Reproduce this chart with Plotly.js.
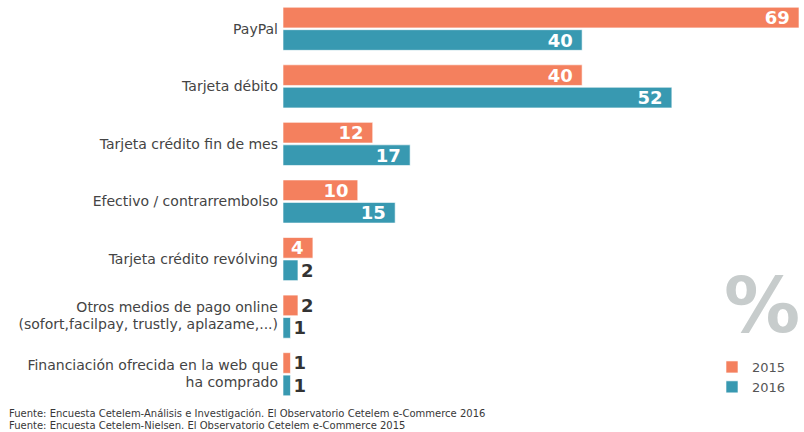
<!DOCTYPE html>
<html>
<head>
<meta charset="utf-8">
<script src="https://cdn.plot.ly/plotly-3.0.1.min.js"></script>
<style>html,body{margin:0;padding:0;background:#fff;}#chart{width:804px;height:432px;}</style>
</head>
<body>
<div id="chart"></div>
<script>
const categories = [
  "PayPal",
  "Tarjeta débito",
  "Tarjeta crédito fin de mes",
  "Efectivo / contrarrembolso",
  "Tarjeta crédito revólving",
  "Otros medios de pago online<br>(sofort,facilpay, trustly, aplazame,...)",
  "Financiación ofrecida en la web que<br>ha comprado"
];
const values2015 = [69, 40, 12, 10, 4, 2, 1];
const values2016 = [40, 52, 17, 15, 2, 1, 1];
const seriesNames = ["2015", "2016"];
const footnotes = [
  "Fuente: Encuesta Cetelem-Análisis e Investigación. El Observatorio Cetelem e-Commerce 2016",
  "Fuente: Encuesta Cetelem-Nielsen. El Observatorio Cetelem e-Commerce 2015"
];

const W = 804, H = 432;
const M = {l: 283, r: 5, t: 0, b: 29};
const PW = W - M.l - M.r, PH = H - M.t - M.b;
const px = x => (x - M.l) / PW;
const py = y => 1 - (y - M.t) / PH;

const FONT = "DejaVu Sans";
const colors = ["#F4805E", "#3899B1"];

function mkTrace(vals, name, color) {
  return {
    type: "bar",
    orientation: "h",
    name: name,
    y: categories,
    x: vals,
    text: vals.map(v => v >= 4 ? v + "\u00a0" : String(v)),
    textposition: vals.map(v => v >= 4 ? "inside" : "outside"),
    insidetextanchor: "end",
    textangle: 0,
    constraintext: "none",
    cliponaxis: false,
    insidetextfont: {family: FONT, size: 18, color: "#ffffff", weight: "bold"},
    outsidetextfont: {family: FONT, size: 18, color: "#333333", weight: "bold"},
    marker: {color: color, line: {color: "rgba(255,255,255,0.6)", width: 1}},
    hoverinfo: "none"
  };
}

const data = [
  mkTrace(values2015, seriesNames[0], colors[0]),
  mkTrace(values2016, seriesNames[1], colors[1])
];

const layout = {
  width: W, height: H,
  margin: M,
  paper_bgcolor: "#ffffff",
  plot_bgcolor: "#ffffff",
  barmode: "group",
  bargap: 0.22,
  bargroupgap: 0.08,
  showlegend: true,
  legend: {
    x: px(712), xanchor: "left",
    y: py(352), yanchor: "top",
    font: {family: FONT, size: 13, color: "#555555"},
    bgcolor: "rgba(0,0,0,0)",
    tracegroupgap: 0
  },
  xaxis: {
    range: [0, 69],
    visible: false,
    fixedrange: true
  },
  yaxis: {
    type: "category",
    autorange: "reversed",
    ticks: "",
    ticklabelstandoff: 4,
    showline: false,
    showgrid: false,
    zeroline: false,
    tickfont: {family: FONT, size: 14, color: "#444444"},
    fixedrange: true
  },
  annotations: [
    {
      text: "%", xref: "paper", yref: "paper",
      x: px(762), y: py(305), xanchor: "center", yanchor: "middle",
      showarrow: false,
      font: {family: FONT, size: 76, color: "#C7CCCC", weight: "bold"}
    },
    {
      text: footnotes[0], xref: "paper", yref: "paper",
      x: px(7), y: py(413), xanchor: "left", yanchor: "middle",
      showarrow: false,
      font: {family: FONT, size: 10, color: "#383838"}
    },
    {
      text: footnotes[1], xref: "paper", yref: "paper",
      x: px(7), y: py(425), xanchor: "left", yanchor: "middle",
      showarrow: false,
      font: {family: FONT, size: 10, color: "#383838"}
    }
  ]
};

Plotly.newPlot("chart", data, layout, {displayModeBar: false, staticPlot: true}).then(gd => {
  // tighten line spacing of the two-line category labels
  gd.querySelectorAll(".ytick text tspan.line").forEach(t => {
    const dy = t.getAttribute("dy");
    if (dy && /em$/.test(dy)) {
      const v = parseFloat(dy);
      if (v) t.setAttribute("dy", (v * 1.18 / 1.3) + "em");
    }
  });
});
</script>
</body>
</html>
